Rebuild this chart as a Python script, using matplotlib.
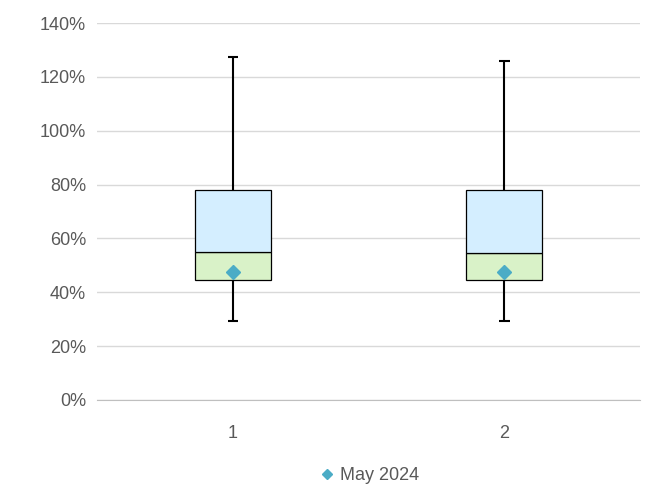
import matplotlib
matplotlib.use("Agg")
import matplotlib.pyplot as plt
import numpy as np

plt.rcParams['font.family'] = ['Liberation Sans', 'DejaVu Sans']

categories = ["1", "2"]
whisker_low = [29.3, 29.3]
q1 = [44.5, 44.5]
median = [55.0, 54.7]
q3 = [78.0, 78.0]
whisker_high = [127.5, 125.8]
may_2024 = [47.5, 47.5]

fig = plt.figure(figsize=(6.48, 4.92), dpi=100)
ax = fig.add_axes([0.15, 0.187, 0.838, 0.766])

x = np.arange(len(categories))
w = 0.28
lower = np.array(median) - np.array(q1)
upper = np.array(q3) - np.array(median)

ax.vlines(x, whisker_low, q1, color="black", lw=1.5, zorder=2)
ax.vlines(x, q3, whisker_high, color="black", lw=1.5, zorder=2)
ax.hlines(whisker_low, x - 0.02, x + 0.02, color="black", lw=1.5, zorder=2)
ax.hlines(whisker_high, x - 0.02, x + 0.02, color="black", lw=1.5, zorder=2)
ax.bar(x, lower, w, bottom=q1, color="#D9F2C8", edgecolor="black", lw=0.9, zorder=3)
ax.bar(x, upper, w, bottom=median, color="#D4EEFF", edgecolor="black", lw=0.9, zorder=3)
ax.plot(x, may_2024, "D", color="#4BACC6", ms=7, ls="none", zorder=4, label="May 2024")

ax.set_xlim(-0.5, 1.5)
ax.set_ylim(0, 140)
ax.set_yticks(range(0, 141, 20))
ax.set_yticklabels([f"{v}%" for v in range(0, 141, 20)])
ax.set_xticks(x)
ax.set_xticklabels(categories)
ax.grid(axis="y", color="#D9D9D9", lw=1)
ax.set_axisbelow(True)
for s in ["top", "right", "left"]:
    ax.spines[s].set_visible(False)
ax.spines["bottom"].set_color("#BFBFBF")
ax.tick_params(length=0, labelsize=13, colors="#595959", pad=8)
ax.tick_params(axis="x", pad=18)
ax.legend(loc="upper center", bbox_to_anchor=(0.5, -0.135), frameon=False,
          fontsize=13, handletextpad=0.2, handlelength=1.0, markerscale=0.8,
          labelcolor="#595959")

fig.savefig("out.png")
